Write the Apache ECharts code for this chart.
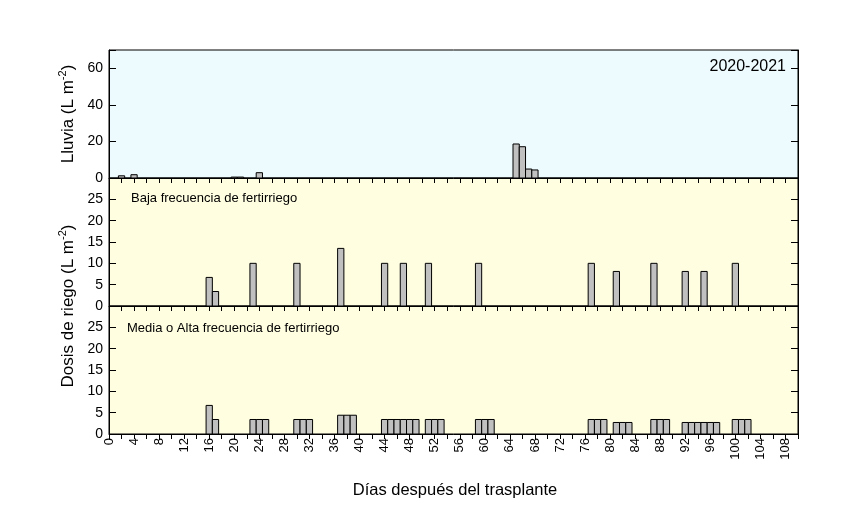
<!DOCTYPE html>
<html>
<head>
<meta charset="utf-8">
<script src="https://cdn.jsdelivr.net/npm/echarts@6/dist/echarts.min.js"></script>
<style>html,body{margin:0;padding:0;background:#fff}#c{width:845px;height:505px}</style>
</head>
<body>
<div id="c"></div>
<script>
// ---- data ----
const rainDays   = [2, 4, 20, 21, 24, 65, 66, 67, 68];
const rainValues = [1.2, 1.8, 0.5, 0.5, 2.9, 18.6, 17.1, 4.9, 4.4];

const bajaDays   = [16, 17, 23, 30, 37, 44, 47, 51, 59, 77, 81, 87, 92, 95, 100];
const bajaValues = [6.7, 3.4, 10, 10, 13.5, 10, 10, 10, 10, 10, 8.1, 10, 8.1, 8.1, 10];

const mediaDays   = [16, 17, 23, 24, 25, 30, 31, 32, 37, 38, 39, 44, 45, 46, 47, 48, 49,
                     51, 52, 53, 59, 60, 61, 77, 78, 79, 81, 82, 83, 87, 88, 89,
                     92, 93, 94, 95, 96, 97, 100, 101, 102];
const mediaValues = [6.7, 3.4, 3.4, 3.4, 3.4, 3.4, 3.4, 3.4, 4.4, 4.4, 4.4, 3.4, 3.4, 3.4, 3.4, 3.4, 3.4,
                     3.4, 3.4, 3.4, 3.4, 3.4, 3.4, 3.4, 3.4, 3.4, 2.7, 2.7, 2.7, 3.4, 3.4, 3.4,
                     2.7, 2.7, 2.7, 2.7, 2.7, 2.7, 3.4, 3.4, 3.4];

const xMin = 0, xMax = 110, xInterval = 2, xLabelStep = 4;
const rainTicks = [0, 20, 40, 60];   // y max 70
const dosisTicks = [0, 5, 10, 15, 20, 25]; // y max 30

const yearLabel = '2020-2021';
const bajaLabel = 'Baja frecuencia de fertirriego';
const mediaLabel = 'Media o Alta frecuencia de fertirriego';
const xTitle = 'Días después del trasplante';

// ---- chart ----
const FONT = 'Liberation Sans, Arial, sans-serif';
const chart = echarts.init(document.getElementById('c'), null, {renderer: 'canvas'});
const pair = (d, v) => d.map((x, i) => [x, v[i]]);

const grids = [
  {left: 109, right: 47, top: 50, height: 128, bg: '#EEFBFE'},
  {left: 109, right: 47, top: 178, height: 128, bg: '#FFFEE1'},
  {left: 109, right: 47, top: 306, height: 128, bg: '#FFFEE1'}
];

const xAxes = grids.map((g, i) => ({
  type: 'value', gridIndex: i, min: xMin, max: xMax, interval: xInterval,
  axisLine: {show: true, onZero: false, lineStyle: {color: '#000', width: 1}},
  axisTick: {show: true, inside: false, length: 5, lineStyle: {color: '#000'}},
  splitLine: {show: false},
  axisLabel: {
    show: i === 2, rotate: 90, margin: 4, padding: [5, 0, 0, 0],
    fontFamily: FONT, fontSize: 13, color: '#000',
    formatter: v => (v % xLabelStep === 0 && v <= 108) ? String(v) : ''
  }
}));

function yAxisPair(gi, max, interval, ticks) {
  const common = {
    type: 'value', gridIndex: gi, min: 0, max: max, interval: interval,
    splitLine: {show: false},
    axisLine: {show: true, lineStyle: {color: '#000'}},
    axisTick: {show: true, inside: true, length: 7, lineStyle: {color: '#000'}}
  };
  return [
    Object.assign({}, common, {
      position: 'left',
      axisLabel: {show: true, margin: 6, fontFamily: FONT, fontSize: 14, color: '#000',
        formatter: v => ticks.indexOf(v) >= 0 ? String(v) : ''}
    }),
    Object.assign({}, common, {position: 'right', axisLabel: {show: false}})
  ];
}

const yAxes = [].concat(
  yAxisPair(0, 70, 20, rainTicks),
  yAxisPair(1, 30, 5, dosisTicks),
  yAxisPair(2, 30, 5, dosisTicks)
);

function renderBar(params, api) {
  const d = api.value(0), v = api.value(1);
  const p0 = api.coord([d - 0.5, v]);
  const p1 = api.coord([d + 0.5, 0]);
  return {
    type: 'rect',
    shape: {x: p0[0], y: p0[1], width: p1[0] - p0[0], height: p1[1] - p0[1]},
    style: {fill: '#C0C0C0', stroke: '#000', lineWidth: 1}
  };
}

function barSeries(gi, data) {
  return {
    type: 'custom', xAxisIndex: gi, yAxisIndex: gi * 2, data: data,
    renderItem: renderBar, encode: {x: 0, y: 1}, silent: true, animation: false, clip: true
  };
}

const supRich = {
  a: {fontFamily: FONT, fontSize: 17, color: '#000'},
  s: {fontFamily: FONT, fontSize: 11, color: '#000', verticalAlign: 'top', padding: [0, 0, 10, 0]}
};

chart.setOption({
  animation: false,
  grid: grids.map(g => ({left: g.left, right: g.right, top: g.top, height: g.height,
    show: true, backgroundColor: g.bg, borderColor: '#000', borderWidth: 1, containLabel: false})),
  xAxis: xAxes,
  yAxis: yAxes,
  series: [
    barSeries(0, pair(rainDays, rainValues)),
    barSeries(1, pair(bajaDays, bajaValues)),
    barSeries(2, pair(mediaDays, mediaValues))
  ],
  graphic: [
    {type: 'text', right: 59, top: 59,
      style: {text: yearLabel, fontFamily: FONT, fontSize: 16, fill: '#000'}},
    {type: 'text', left: 131, top: 192,
      style: {text: bajaLabel, fontFamily: FONT, fontSize: 13, fill: '#000'}},
    {type: 'text', left: 127, top: 322,
      style: {text: mediaLabel, fontFamily: FONT, fontSize: 13, fill: '#000'}},
    {type: 'text', x: 68, y: 114, rotation: Math.PI / 2,
      style: {text: '{a|Lluvia (L m}{s|-2}{a|)}', rich: supRich, align: 'center', verticalAlign: 'middle'}},
    {type: 'text', x: 68, y: 306, rotation: Math.PI / 2,
      style: {text: '{a|Dosis de riego (L m}{s|-2}{a|)}', rich: supRich, align: 'center', verticalAlign: 'middle'}},
    {type: 'text', x: 455, y: 490,
      style: {text: xTitle, fontFamily: FONT, fontSize: 16.5, fill: '#000', align: 'center', verticalAlign: 'middle'}}
  ]
});
</script>
</body>
</html>
